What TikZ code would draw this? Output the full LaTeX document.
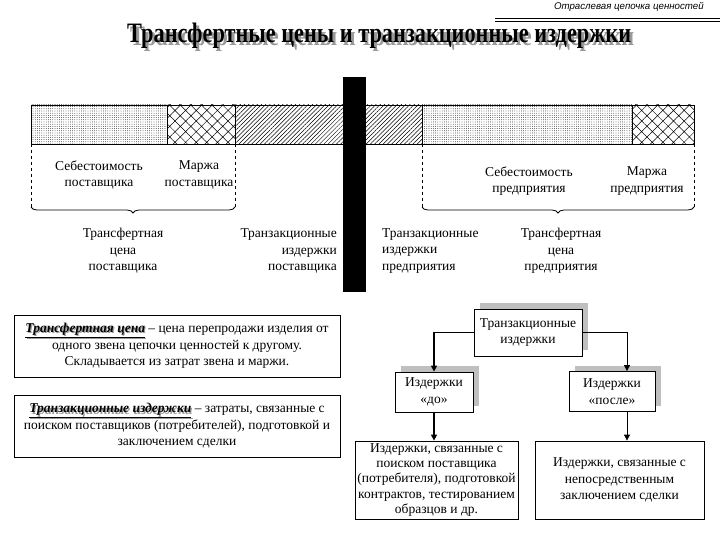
\documentclass[tikz,border=0pt]{standalone}
\usepackage{fontspec}
\setmainfont{Liberation Serif}
\newfontfamily\hdrfont{Liberation Sans}
\usetikzlibrary{patterns.meta,decorations.pathreplacing,arrows.meta,shadows}
\newcommand\titletext{\resizebox{504pt}{19.5pt}{\bfseries Трансфертные цены и транзакционные издержки}}
\newcommand\termsh[1]{\makebox[0pt][l]{\kern1.2pt\raisebox{-1.2pt}{\textcolor{black!40}{\underline{\textbf{\textit{#1}}}}}}\underline{\textbf{\textit{#1}}}}
\begin{document}
\begin{tikzpicture}[x=1pt,y=-1pt,
  font=\fontsize{13.5}{16.5}\selectfont,
  lbl/.style={align=center, inner sep=0pt},
  box/.style={draw, fill=white, align=center, inner sep=1pt, line width=0.8pt},
  shbox/.style={box, general shadow={fill=black!25, shadow xshift=6pt, shadow yshift=6pt}},
  dotfill/.style={pattern={Dots[distance=2.2pt,radius=0.4pt]}},
  hatchfill/.style={pattern={Hatch[angle=45,distance=7.5pt,line width=0.5pt]}},
  linefill/.style={pattern={Lines[angle=45,distance=3pt,line width=0.5pt]}},
  dashv/.style={dash pattern=on 3pt off 3pt, line width=0.6pt},
  brc/.style={decorate, decoration={brace,mirror,amplitude=6pt}, line width=0.8pt},
  thickconn/.style={line width=1.6pt, -{Triangle[length=6pt,width=6pt]}},
  thinconn/.style={line width=0.8pt, -{Triangle[length=6pt,width=6pt]}}]
\useasboundingbox (0,0) rectangle (720,540);

% header
\node[anchor=east, inner sep=0pt, font=\hdrfont\itshape\fontsize{9.7}{11}\selectfont] (hdr) at (704,7) {Отраслевая цепочка ценностей};
\draw[line width=0.6pt] (495,18.5) -- (720,18.5);
\draw[line width=1pt] (495,21.3) -- (720,21.3);

% title (with shadow in the same node)
\node[anchor=base west, inner sep=0pt] (title) at (127,43)
 {\makebox[0pt][l]{\kern3pt\raisebox{-3pt}{\textcolor{black!40}{\titletext}}}\titletext};

% bar
\draw[dotfill, line width=0.6pt] (31,105) rectangle (167,144);
\draw[hatchfill, line width=0.6pt] (167,105) rectangle (235,144);
\draw[linefill, line width=0.6pt] (235,105) rectangle (422,144);
\draw[dotfill, line width=0.6pt] (422,105) rectangle (632,144);
\draw[hatchfill, line width=0.6pt] (632,105) rectangle (694,144);
\fill (343,77) rectangle (366,292);

% dashed lines and braces
\draw[dashv] (31,144) -- (31,207);
\draw[dashv] (235,144) -- (235,207);
\draw[dashv] (422,144) -- (422,207);
\draw[dashv] (694,144) -- (694,207);
\draw[brc] (31,207) -- (235,207);
\draw[brc] (422,207) -- (694,207);

% labels
\node[lbl] (sebp) at (99,175) {Себестоимость\\поставщика};
\node[lbl] (marp) at (199,175) {Маржа\\поставщика};
\node[lbl] (tcp) at (123,251) {Трансфертная\\цена\\поставщика};
\node[lbl, align=right, anchor=east] (tip) at (337,251) {Транзакционные\\издержки\\поставщика};
\node[lbl] (sebe) at (529,181) {Себестоимость\\предприятия};
\node[lbl] (mare) at (647,181) {Маржа\\предприятия};
\node[lbl, align=left, anchor=west] (tie) at (382,251) {Транзакционные\\издержки\\предприятия};
\node[lbl] (tce) at (561,251) {Трансфертная\\цена\\предприятия};

% definition boxes
\node[box, minimum width=326pt, minimum height=62pt] (deftp) at (177,346)
 {\termsh{Трансфертная цена} – цена перепродажи изделия от\\одного звена цепочки ценностей к другому.\\Складывается из затрат звена и маржи.};
\node[box, minimum width=326pt, minimum height=62pt] (defti) at (177,426)
 {\termsh{Транзакционные издержки} – затраты, связанные с\\поиском поставщиков (потребителей), подготовкой и\\заключением сделки};

% tree
\node[shbox, minimum width=108pt, minimum height=47pt] (top) at (528,332.5) {Транзакционные\\издержки};
\node[shbox, minimum width=78pt, minimum height=40pt] (do) at (434,392) {Издержки\\«до»};
\node[shbox, minimum width=86pt, minimum height=40pt] (posle) at (612,391.5) {Издержки\\«после»};
\node[box, minimum width=163pt, minimum height=78pt, inner sep=0.5pt, font=\fontsize{13.5}{15.3}\selectfont] (bl) at (436.5,480)
 {Издержки, связанные с\\поиском поставщика\\(потребителя), подготовкой\\контрактов, тестированием\\образцов и др.};
\node[box, minimum width=169pt, minimum height=78pt] (br) at (619.5,480)
 {Издержки, связанные с\\непосредственным\\заключением сделки};

\draw[thickconn] (top.west) -| (do.north);
\draw[thickconn] (do.south) -- (do.south |- bl.north);
\coordinate (rc) at (627,332.5);
\draw[thinconn] (top.east) -- (rc) -- (rc |- posle.north);
\draw[thinconn] (rc |- posle.south) -- (rc |- br.north);
\end{tikzpicture}
\end{document}
